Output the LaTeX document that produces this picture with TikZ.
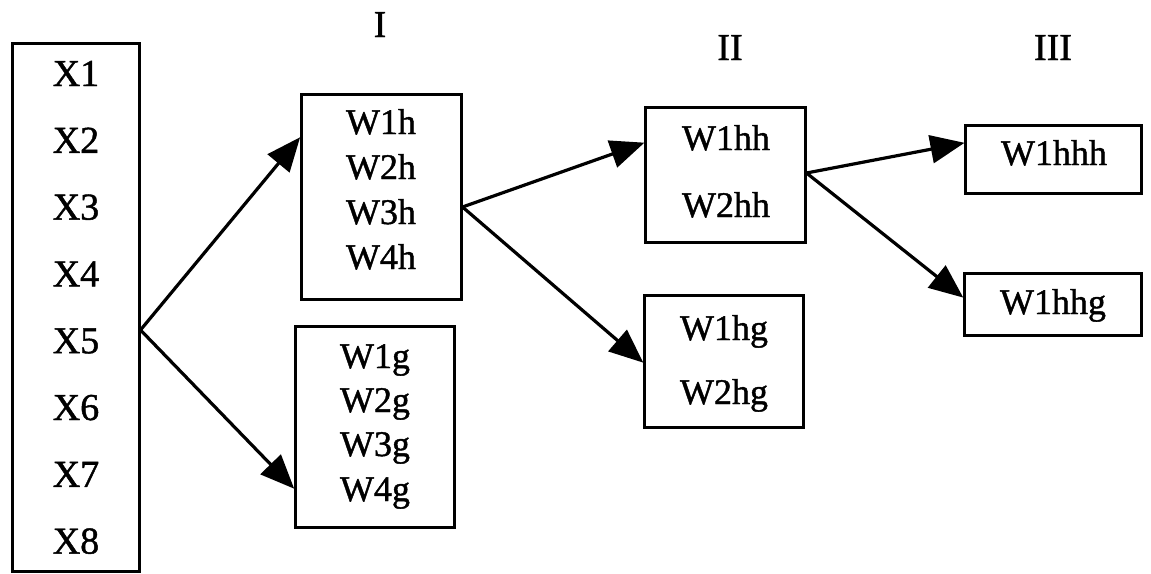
\documentclass[tikz,border=0pt]{standalone}
\usepackage{fontspec}
\setmainfont[FakeBold=1.2]{Liberation Serif}
\usetikzlibrary{arrows.meta}
\tikzset{
  box/.style={draw=black, line width=3pt, rectangle, inner sep=0pt},
  xtxt/.style={anchor=base, inner sep=0pt, font=\fontsize{38}{44}\selectfont},
  wtxt/.style={anchor=base, inner sep=0pt, font=\fontsize{36}{42}\selectfont},
  rtxt/.style={anchor=base, inner sep=0pt, font=\fontsize{38}{44}\selectfont},
  conn/.style={line width=3.2pt, -{Triangle[length=34pt,width=28pt]}, shorten >=-1pt}
}
\begin{document}
\begin{tikzpicture}[x=1pt,y=-1pt]
\useasboundingbox (0,0) rectangle (1151,573);
% boxes
\node[box, minimum width=127pt, minimum height=528pt] (xb) at (75.5,307) {};
\node[box, minimum width=160pt, minimum height=205pt] (wh) at (381,196.5) {};
\node[box, minimum width=159pt, minimum height=201pt] (wg) at (374.5,426.5) {};
\node[box, minimum width=160pt, minimum height=135pt] (whh) at (725,174.5) {};
\node[box, minimum width=159pt, minimum height=132pt] (whg) at (723.5,361) {};
\node[box, minimum width=176pt, minimum height=68pt] (whhh) at (1053,159) {};
\node[box, minimum width=177pt, minimum height=62pt] (whhg) at (1052.5,304) {};
% texts
\foreach \i in {1,...,8}{
  \node[xtxt] (x\i) at (76,{86+66.8*(\i-1)}) {X\i};
}
\node[wtxt] (t1h) at (381,134) {W1h};
\node[wtxt] (t2h) at (381,179) {W2h};
\node[wtxt] (t3h) at (381,224) {W3h};
\node[wtxt] (t4h) at (381,269) {W4h};
\node[wtxt] (t1g) at (375,368) {W1g};
\node[wtxt] (t2g) at (375,412) {W2g};
\node[wtxt] (t3g) at (375,456) {W3g};
\node[wtxt] (t4g) at (375,501) {W4g};
\node[wtxt] (t1hh) at (726,150) {W1hh};
\node[wtxt] (t2hh) at (726,217) {W2hh};
\node[wtxt] (t1hg) at (724,340) {W1hg};
\node[wtxt] (t2hg) at (724,404) {W2hg};
\node[wtxt] (t1hhh) at (1054,165) {W1hhh};
\node[wtxt] (t1hhg) at (1053,314) {W1hhg};
\node[rtxt] (rI) at (380,37) {I};
\node[rtxt] (rII) at (730,60) {II};
\node[rtxt] (rIII) at (1053,60) {III};
% connectors
\draw[conn] ([yshift=-23pt]xb.east) -- ([yshift=58.5pt]wh.west);
\draw[conn] ([yshift=-23pt]xb.east) -- ([yshift=-61.5pt]wg.west);
\draw[conn] ([yshift=-10.5pt]wh.east) -- ([yshift=31.5pt]whh.west);
\draw[conn] ([yshift=-10.5pt]wh.east) -- ([yshift=-1pt]whg.west);
\draw[conn] ([yshift=1.5pt]whh.east) -- ([yshift=16pt]whhh.west);
\draw[conn] ([yshift=1.5pt]whh.east) -- ([yshift=7pt]whhg.west);
\end{tikzpicture}
\end{document}
